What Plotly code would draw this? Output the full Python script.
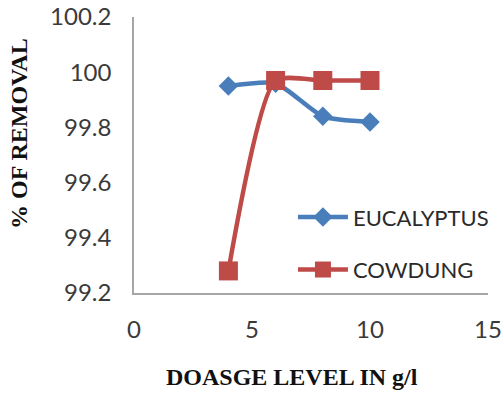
import plotly.graph_objects as go

# Dosage levels (g/l) and percentage removal for each adsorbent
dosage = [4, 6, 8, 10]
eucalyptus = [99.95, 99.96, 99.84, 99.82]
cowdung = [99.28, 99.97, 99.97, 99.97]

x_ticks = [0, 5, 10, 15]
y_ticks = [99.2, 99.4, 99.6, 99.8, 100, 100.2]
y_tick_text = ["99.2", "99.4", "99.6", "99.8", "100", "100.2"]

tick_font = dict(family="Lato, Open Sans, sans-serif", size=24, color="#3a3a3a")
title_font = dict(family="Liberation Serif, Times New Roman, serif", size=24, color="#111111")

fig = go.Figure()
fig.add_trace(go.Scatter(
    x=dosage, y=eucalyptus, name="EUCALYPTUS", legendgroup="euc", mode="lines+markers",
    line=dict(color="#4a7ebb", width=4.5, shape="spline", smoothing=0.6),
    marker=dict(symbol="diamond", size=15, color="#4a7ebb"),
))
fig.add_trace(go.Scatter(
    x=dosage, y=cowdung, name="COWDUNG", legendgroup="cow", mode="lines+markers",
    line=dict(color="#be4b48", width=4.5, shape="spline", smoothing=0.6),
    marker=dict(symbol="square", size=19, color="#be4b48"),
))

fig.update_layout(
    width=504, height=396,
    margin=dict(l=134, r=16, t=17, b=103, autoexpand=False),
    paper_bgcolor="white", plot_bgcolor="white",
    showlegend=True,
    legend=dict(
        x=0.449, y=0.351, xanchor="left", yanchor="top",
        font=dict(family="Lato, Open Sans, sans-serif", size=22, color="#2a2a2a"),
        bgcolor="rgba(0,0,0,0)", traceorder="grouped", tracegroupgap=21, itemwidth=50,
    ),
    xaxis=dict(
        range=[0, 15], tickvals=x_ticks, showgrid=False, zeroline=False,
        showline=True, linecolor="#a6a6a6", linewidth=1.5, ticks="",
        tickfont=tick_font, ticklabelstandoff=14, automargin=False,
    ),
    yaxis=dict(
        range=[99.2, 100.2], tickvals=y_ticks, ticktext=y_tick_text,
        showgrid=False, zeroline=False,
        showline=True, linecolor="#a6a6a6", linewidth=1.5, ticks="",
        tickfont=tick_font, ticklabelstandoff=16, automargin=False,
    ),
    annotations=[
        dict(text="<b>DOASGE LEVEL IN g/l</b>", xref="paper", yref="paper",
             x=(292 - 134) / 354, y=-(377 - 293) / 276, xanchor="center", yanchor="middle",
             showarrow=False, font=title_font),
        dict(text="<b>% OF REMOVAL</b>", xref="paper", yref="paper",
             x=-(134 - 19) / 354, y=(293 - 134) / 276, xanchor="center", yanchor="middle",
             textangle=-90, showarrow=False, font=title_font),
    ],
)

fig.write_html("out.html")
